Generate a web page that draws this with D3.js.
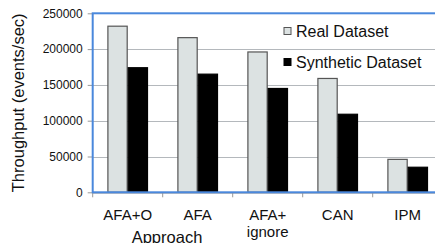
<!DOCTYPE html>
<html>
<head>
<meta charset="utf-8">
<script src="https://cdn.jsdelivr.net/npm/d3@7"></script>
<style>
body { margin: 0; background: #fff; }
text { font-family: "Liberation Sans", Arial, sans-serif; }
</style>
</head>
<body>
<script>
// chart values
var categories = ["AFA+O", "AFA", "AFA+\nignore", "CAN", "IPM"];
var seriesNames = ["Real Dataset", "Synthetic Dataset"];
var realValues = [232000, 216000, 196000, 159000, 46000];
var syntheticValues = [174000, 165000, 145000, 109000, 35000];
var yTicks = [0, 50000, 100000, 150000, 200000, 250000];

var colours = ["#dce2e2", "#000000"];

var width = 435, height = 243;
var plotLeft = 92.7, plotRight = 442.7, plotTop = 13.3, plotBottom = 192.3;

var svg = d3.select("body").append("svg")
  .attr("width", width)
  .attr("height", height);

var data = categories.map(function(c, i) {
  return { cat: c, values: [realValues[i], syntheticValues[i]] };
});

var x = d3.scaleBand()
  .domain(categories)
  .range([plotLeft, plotRight])
  .paddingInner(0.42)
  .paddingOuter(0.21);

var x1 = d3.scaleBand()
  .domain([0, 1])
  .range([0, x.bandwidth()]);

var y = d3.scaleLinear()
  .domain([0, 250000])
  .range([plotBottom, plotTop]);

// grid lines
svg.append("g")
  .selectAll("line")
  .data(yTicks.slice(1))
  .enter().append("line")
  .attr("x1", plotLeft).attr("x2", plotRight)
  .attr("y1", function(d) { return Math.round(y(d)) + 0.5; })
  .attr("y2", function(d) { return Math.round(y(d)) + 0.5; })
  .attr("stroke", "#b4b8bc")
  .attr("stroke-width", 1);

// y axis
var yAxis = svg.append("g")
  .attr("transform", "translate(" + plotLeft + ",0)")
  .call(d3.axisLeft(y).tickValues(yTicks).tickFormat(d3.format("d")).tickSize(5).tickPadding(5));
yAxis.select(".domain").remove();
yAxis.selectAll("line").attr("stroke", "#999");
yAxis.selectAll("text").style("font-size", "12px").attr("fill", "#111");

// bars
var groups = svg.selectAll(".grp")
  .data(data)
  .enter().append("g")
  .attr("class", "grp")
  .attr("transform", function(d) { return "translate(" + x(d.cat) + ",0)"; });

groups.selectAll("rect")
  .data(function(d) { return d.values; })
  .enter().append("rect")
  .attr("x", function(d, i) { return x1(i) + 0.5; })
  .attr("y", function(d) { return y(d); })
  .attr("width", x1.bandwidth() - 1)
  .attr("height", function(d) { return plotBottom - y(d); })
  .attr("fill", function(d, i) { return colours[i]; })
  .attr("stroke", function(d, i) { return i == 0 ? "#555" : "#000"; })
  .attr("stroke-width", 1.2);

// x axis tick marks at band edges
var edges = categories.map(function(c) { return x(c) - x.step() * 0.21; });
svg.append("g")
  .selectAll("line")
  .data(edges)
  .enter().append("line")
  .attr("x1", function(d) { return d; }).attr("x2", function(d) { return d; })
  .attr("y1", plotBottom).attr("y2", plotBottom + 5)
  .attr("stroke", "#999");

svg.append("line")
  .attr("x1", plotLeft).attr("x2", plotRight)
  .attr("y1", plotBottom + 0.8).attr("y2", plotBottom + 0.8)
  .attr("stroke", "#999").attr("stroke-width", 1);

// blue plot frame
svg.append("rect")
  .attr("x", plotLeft).attr("y", plotTop)
  .attr("width", plotRight - plotLeft).attr("height", plotBottom - plotTop)
  .attr("fill", "none")
  .attr("stroke", "#4a88dc")
  .attr("stroke-width", 2);

// category labels
var catLabels = svg.append("g")
  .selectAll("text")
  .data(categories)
  .enter().append("text")
  .attr("x", function(d) { return x(d) + x.bandwidth() / 2; })
  .attr("y", 220)
  .attr("text-anchor", "middle")
  .style("font-size", "15px")
  .attr("fill", "#111");
catLabels.each(function(d) {
  var lines = d.split("\n");
  var t = d3.select(this);
  lines.forEach(function(l, i) {
    t.append("tspan")
      .attr("x", t.attr("x"))
      .attr("dy", i == 0 ? 0 : 17)
      .text(l);
  });
});

// axis titles
svg.append("text")
  .attr("x", 167).attr("y", 243)
  .attr("text-anchor", "middle")
  .style("font-size", "16.5px")
  .attr("fill", "#111")
  .text("Approach");

svg.append("text")
  .attr("transform", "translate(24," + ((plotTop + plotBottom) / 2) + ") rotate(-90)")
  .attr("text-anchor", "middle")
  .style("font-size", "16.5px")
  .attr("fill", "#111")
  .text("Throughput (events/sec)");

// legend
var legend = svg.append("g")
  .selectAll("g")
  .data(seriesNames)
  .enter().append("g")
  .attr("transform", function(d, i) { return "translate(284," + (31 + i * 31) + ")"; });

legend.append("rect")
  .attr("x", 0).attr("y", -3.5)
  .attr("width", 7).attr("height", 7)
  .attr("fill", function(d, i) { return colours[i]; })
  .attr("stroke", function(d, i) { return i == 0 ? "#555" : "#000"; })
  .attr("stroke-width", 1);

legend.append("text")
  .attr("x", 12).attr("y", 0)
  .attr("dy", "0.36em")
  .style("font-size", "16px")
  .attr("fill", "#111")
  .text(function(d) { return d; });
</script>
</body>
</html>
